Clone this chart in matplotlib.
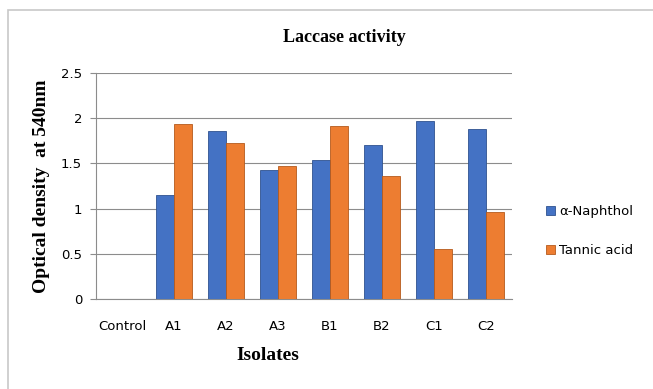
import numpy as np
import matplotlib.pyplot as plt
from matplotlib.patches import Rectangle

isolates = ['Control', 'A1', 'A2', 'A3', 'B1', 'B2', 'C1', 'C2']
naphthol = [0, 1.15, 1.855, 1.425, 1.54, 1.70, 1.97, 1.88]
tannic = [0, 1.94, 1.73, 1.467, 1.91, 1.36, 0.55, 0.96]
yticks = [0, 0.5, 1, 1.5, 2, 2.5]
yticklabels = ['0', '0.5', '1', '1.5', '2', '2.5']

blue = '#4472C4'
orange = '#ED7D31'

fig = plt.figure(figsize=(6.53, 3.89), dpi=100)
ax = fig.add_axes([96/653, 1 - 299/389, 416/653, 226/389])

# light frame round the chart area (runs off right and bottom)
fig.patches.append(Rectangle((8/653, -0.05), 1.0, 1 - 10/389 + 0.05,
                             transform=fig.transFigure, fill=False,
                             edgecolor='#c8c8c8', linewidth=1.2))

x = np.arange(len(isolates))
w = 0.353
ax.bar(x - w/2, naphthol, w, color=blue, edgecolor='#2f528f', linewidth=0.6,
       label='\u03b1-Naphthol', zorder=3)
ax.bar(x + w/2, tannic, w, color=orange, edgecolor='#b55a1c', linewidth=0.6,
       label='Tannic acid', zorder=3)

ax.set_xlim(-0.5, len(isolates) - 0.5)
ax.set_ylim(0, 2.5)
ax.set_yticks(yticks)
ax.set_yticklabels(yticklabels)
ax.set_xticks(x)
ax.set_xticklabels(isolates)
ax.grid(axis='y', color='#8c8c8c', linewidth=0.8, zorder=0)
for s in ['top', 'right']:
    ax.spines[s].set_visible(False)
ax.spines['left'].set_color('#8c8c8c')
ax.spines['bottom'].set_color('#8c8c8c')
ax.tick_params(axis='y', length=4, color='#8c8c8c', pad=6)
ax.tick_params(axis='x', length=0, pad=15)
for lab in ax.get_xticklabels() + ax.get_yticklabels():
    lab.set_fontfamily('DejaVu Sans')
    lab.set_fontsize(9.5)

serif = 'Liberation Serif'
fig.text(344/653, 1 - 38/389, 'Laccase activity', ha='center', va='center',
         family=serif, weight='bold', fontsize=13)
fig.text(268/653, 1 - 355/389, 'Isolates', ha='center', va='center',
         family=serif, weight='bold', fontsize=14)
ax.set_ylabel('Optical density  at 540nm', family=serif, weight='bold',
              fontsize=14, labelpad=8)

ax.legend(loc='center left', bbox_to_anchor=(534/653, 1 - 231/389),
          bbox_transform=fig.transFigure, frameon=False, fontsize=9.5,
          handlelength=0.7, handleheight=0.7, handletextpad=0.3,
          labelspacing=2.0)

fig.savefig('out.png', dpi=100)
